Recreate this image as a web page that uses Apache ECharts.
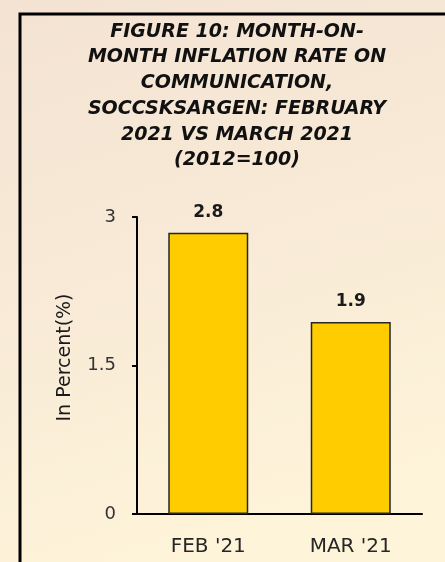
<!DOCTYPE html>
<html>
<head>
<meta charset="utf-8">
<script src="https://cdn.jsdelivr.net/npm/echarts@6/dist/echarts.min.js"></script>
<style>
  html, body { margin: 0; padding: 0; }
  #chart { width: 445px; height: 562px; }
</style>
</head>
<body>
<div id="chart"></div>
<script>
const months = ["FEB '21", "MAR '21"]
const inflationRate = [2.84, 1.94]
const yTicks = [0, 1.5, 3]

const titleLines = [
  'FIGURE 10: MONTH-ON-',
  'MONTH INFLATION RATE ON',
  'COMMUNICATION,',
  'SOCCSKSARGEN: FEBRUARY',
  '2021 VS MARCH 2021',
  '(2012=100)'
]

const chart = echarts.init(document.getElementById('chart'))

const option = {
  backgroundColor: new echarts.graphic.LinearGradient(0, 0, 0.4, 1, [
    { offset: 0, color: '#F4E3D3' },
    { offset: 0.5, color: '#F8EAD7' },
    { offset: 1, color: '#FEF4D9' }
  ]),
  animation: false,
  title: {
    text: titleLines.join('\n'),
    left: 232,
    top: 14,
    textAlign: 'center',
    textStyle: {
      fontFamily: 'DejaVu Sans',
      fontSize: 19,
      fontWeight: 'bold',
      fontStyle: 'italic',
      color: '#111',
      lineHeight: 25.7
    }
  },
  // chart frame (left and top edges)
  graphic: [
    {
      type: 'rect',
      shape: { x: 20, y: 14, width: 600, height: 700 },
      style: { fill: 'none', stroke: '#000', lineWidth: 3 },
      silent: true
    }
  ],
  grid: {
    left: 137,
    right: 23,
    top: 217,
    bottom: 48
  },
  xAxis: {
    type: 'category',
    data: months,
    axisLine: { lineStyle: { color: '#000', width: 2 } },
    axisTick: { show: false },
    axisLabel: {
      fontFamily: 'DejaVu Sans',
      fontSize: 20,
      color: '#262626',
      margin: 23
    }
  },
  yAxis: {
    type: 'value',
    min: yTicks[0],
    max: yTicks[yTicks.length - 1],
    interval: yTicks[1] - yTicks[0],
    name: 'In Percent(%)',
    nameLocation: 'middle',
    nameGap: 62,
    nameTextStyle: {
      fontFamily: 'DejaVu Sans',
      fontSize: 19,
      color: '#1a1a1a',
      padding: [0, 0, 0, 16]
    },
    axisLine: { show: true, lineStyle: { color: '#000', width: 2 } },
    axisTick: { show: true, length: 5, lineStyle: { color: '#000', width: 2 } },
    splitLine: { show: false },
    axisLabel: {
      fontFamily: 'DejaVu Sans',
      fontSize: 18,
      color: '#333',
      margin: 21
    }
  },
  series: [
    {
      type: 'bar',
      data: inflationRate,
      barWidth: 80,
      itemStyle: {
        color: '#FFCC00',
        borderColor: '#262626',
        borderWidth: 1.5
      },
      label: {
        show: true,
        position: 'top',
        distance: 12,
        formatter: p => p.value.toFixed(1),
        fontFamily: 'DejaVu Sans',
        fontSize: 17,
        fontWeight: 'bold',
        color: '#1a1a1a'
      }
    }
  ]
}

chart.setOption(option)
</script>
</body>
</html>
